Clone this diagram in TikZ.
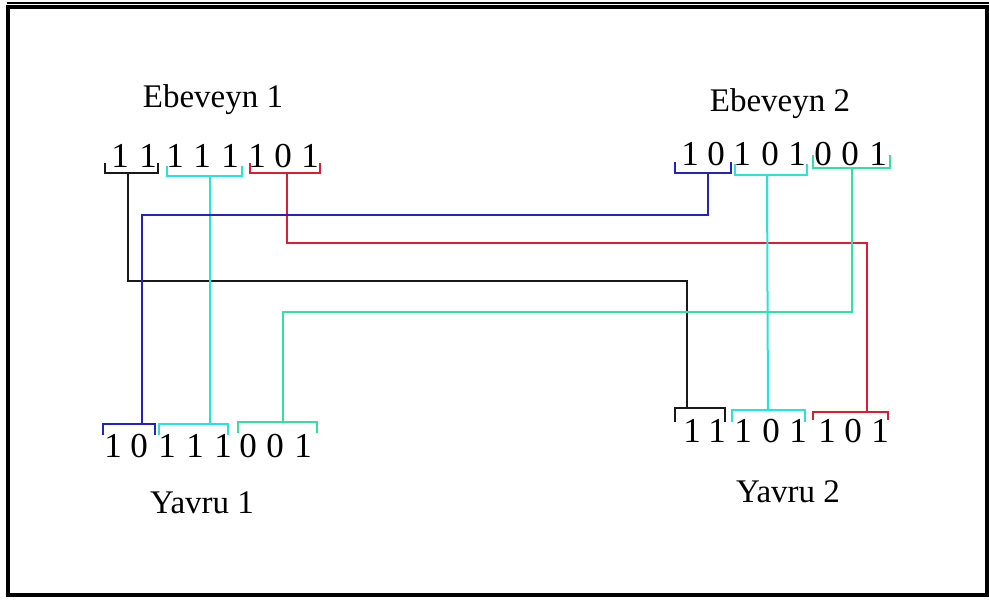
\documentclass[tikz,border=0pt]{standalone}
\usepackage{fontspec}
\setmainfont{Liberation Serif}
\definecolor{gBlack}{RGB}{25,25,25}
\definecolor{gCyan}{RGB}{40,225,225}
\definecolor{gRed}{RGB}{220,30,50}
\definecolor{gBlue}{RGB}{35,35,190}
\definecolor{gGreen}{RGB}{50,225,160}
\tikzset{
  digit/.style={inner sep=0pt, font=\fontsize{35}{38}\selectfont, anchor=base},
  title/.style={inner sep=0pt, font=\fontsize{33}{38}\selectfont},
  brace/.style={line width=2pt},
  link/.style={line width=2pt},
}
\begin{document}
\begin{tikzpicture}[x=1pt,y=-1pt]
\useasboundingbox (0,0) rectangle (989,600);
% window frame
\draw[line width=4pt] (8,6.5) rectangle (987,595);
\draw[line width=1.5pt] (7,3) -- (989,3);

% titles
\node[title] (t1) at (213,100) {Ebeveyn 1};
\node[title] (t2) at (780,104) {Ebeveyn 2};
\node[title] (t3) at (202,503) {Yavru 1};
\node[title] (t4) at (788,492) {Yavru 2};

% parent 1 digits
\foreach \d/\x [count=\i] in {1/120,1/148,1/175,1/202,1/230,1/257,0/283,1/310}
  \node[digit] (pa\i) at (\x,167) {\d};
% parent 2 digits
\foreach \d/\x [count=\i] in {1/690,0/716,1/742,0/770,1/797,0/823,0/850,1/878}
  \node[digit] (pb\i) at (\x,165) {\d};
% child 1 digits
\foreach \d/\x [count=\i] in {1/113,0/139,1/167,1/195,1/223,0/248,0/275,1/303}
  \node[digit] (ca\i) at (\x,457) {\d};
% child 2 digits
\foreach \d/\x [count=\i] in {1/692,1/717,1/743,0/771,1/798,1/827,0/853,1/880}
  \node[digit] (cb\i) at (\x,442) {\d};

% gene brackets of parent 1
\draw[brace,gBlack] (105,163) -- (105,173) -- (158,173) -- (158,163);
\draw[brace,gCyan]  (167,166) -- (167,176) -- (242,176) -- (242,166);
\draw[brace,gRed]   (250,163) -- (250,173) -- (320,173) -- (320,163);
\coordinate (pA) at (128,173);
\coordinate (pB) at (210,176);
\coordinate (pC) at (287,173);

% gene brackets of parent 2
\draw[brace,gBlue]  (675,162) -- (675,173) -- (731,173) -- (731,162);
\draw[brace,gCyan]  (735,164) -- (735,175) -- (807,175) -- (807,164);
\draw[brace,gGreen] (813,155) -- (813,168) -- (890,168) -- (890,155);
\coordinate (qA) at (708,173);
\coordinate (qB) at (767,175);
\coordinate (qC) at (852,168);

% gene brackets of child 1
\draw[brace,gBlue]  (103,435) -- (103,424) -- (155,424) -- (155,435);
\draw[brace,gCyan]  (159,435) -- (159,424) -- (228,424) -- (228,435);
\draw[brace,gGreen] (238,433) -- (238,422) -- (317,422) -- (317,433);
\coordinate (rA) at (142,424);
\coordinate (rB) at (210,424);
\coordinate (rC) at (283,422);

% gene brackets of child 2
\draw[brace,gBlack] (675,422) -- (675,408) -- (725,408) -- (725,422);
\draw[brace,gCyan]  (732,422) -- (732,410) -- (805,410) -- (805,422);
\draw[brace,gRed]   (813,420) -- (813,412) -- (888,412) -- (888,420);
\coordinate (sA) at (687,408);
\coordinate (sB) at (768,410);
\coordinate (sC) at (867,412);

% inheritance links
\draw[link,gBlack] (pA) -- (128,281) -| (sA);
\draw[link,gCyan]  (pB) -- (rB);
\draw[link,gRed]   (pC) -- (287,243) -| (sC);
\draw[link,gBlue]  (qA) -- (708,215) -| (rA);
\draw[link,gCyan]  (qB) -- (sB);
\draw[link,gGreen] (qC) -- (852,312) -| (rC);
\end{tikzpicture}
\end{document}
